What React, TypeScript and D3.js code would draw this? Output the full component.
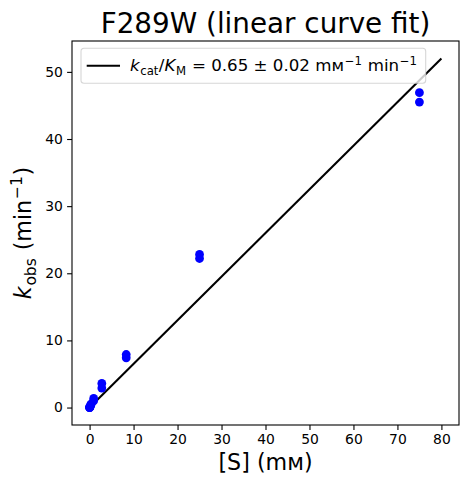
import React, { useEffect, useRef } from 'react';
import * as d3 from 'd3';

// substrate concentrations (mM), duplicate measurements
const concentrations = [75, 75, 25, 25, 8.33, 8.33, 2.78, 2.78, 0.926, 0.926, 0.309, 0.309, 0.103, 0.103, 0.034, 0.034, 0, 0];
const kobsValues = [46.9, 45.5, 22.8, 22.2, 7.9, 7.4, 3.6, 2.9, 1.35, 1.0, 0.5, 0.4, 0.15, 0.12, 0.05, 0.04, 0, 0];
const fitSlope = 0.65;
const fitRange = [0, 80];
const xTicks = [0, 10, 20, 30, 40, 50, 60, 70, 80];
const yTicks = [0, 10, 20, 30, 40, 50];

const FONT = '"DejaVu Sans", sans-serif';

const App: React.FC = () => {
  const svgRef = useRef<SVGSVGElement | null>(null);

  useEffect(() => {
    if (!svgRef.current) return;
    const width = 469;
    const height = 484;
    const margin = { top: 41, right: 10, bottom: 59, left: 72 };
    const innerWidth = width - margin.left - margin.right;
    const innerHeight = height - margin.top - margin.bottom;

    const svg = d3.select(svgRef.current)
      .attr('width', width)
      .attr('height', height)
      .style('background-color', '#fff');

    svg.selectAll('*').remove();

    const g = svg.append('g')
      .attr('transform', `translate(${margin.left},${margin.top})`);

    // matplotlib-style 5% margins around the data
    const xScale = d3.scaleLinear().domain([-4, 84]).range([0, innerWidth]);
    const yScale = d3.scaleLinear().domain([-2.6, 54.6]).range([innerHeight, 0]);

    // x axis
    const xAxis = g.append('g')
      .attr('transform', `translate(0,${innerHeight})`)
      .call(d3.axisBottom(xScale).tickValues(xTicks).tickSize(4.9).tickPadding(4.3).tickSizeOuter(0));
    xAxis.select('.domain').remove();
    xAxis.selectAll('line').attr('stroke', '#000').attr('stroke-width', 1.1);
    xAxis.selectAll('text')
      .attr('fill', '#000')
      .style('font-family', FONT)
      .style('font-size', '13.9px');

    // y axis
    const yAxis = g.append('g')
      .call(d3.axisLeft(yScale).tickValues(yTicks).tickSize(4.9).tickPadding(4.3).tickSizeOuter(0));
    yAxis.select('.domain').remove();
    yAxis.selectAll('line').attr('stroke', '#000').attr('stroke-width', 1.1);
    yAxis.selectAll('text')
      .attr('fill', '#000')
      .style('font-family', FONT)
      .style('font-size', '13.9px');

    // linear fit line
    const line = d3.line<number>()
      .x(d => xScale(d))
      .y(d => yScale(d * fitSlope));
    g.append('path')
      .datum(fitRange)
      .attr('d', line)
      .attr('fill', 'none')
      .attr('stroke', '#000')
      .attr('stroke-width', 2.08);

    // data points
    g.selectAll('.pt')
      .data(concentrations)
      .enter()
      .append('circle')
      .attr('class', 'pt')
      .attr('cx', d => xScale(d))
      .attr('cy', (d, i) => yScale(kobsValues[i]))
      .attr('r', 4.4)
      .attr('fill', '#0000ff');

    // frame
    g.append('rect')
      .attr('x', 0)
      .attr('y', 0)
      .attr('width', innerWidth)
      .attr('height', innerHeight)
      .attr('fill', 'none')
      .attr('stroke', '#000')
      .attr('stroke-width', 1.1);

    // legend
    const legend = g.append('g').attr('transform', `translate(${81 - margin.left},${48.3 - margin.top})`);
    legend.append('rect')
      .attr('width', 344.7)
      .attr('height', 35)
      .attr('rx', 3)
      .attr('fill', 'rgba(255,255,255,0.8)')
      .attr('stroke', 'rgba(204,204,204,0.8)')
      .attr('stroke-width', 1.1);
    legend.append('line')
      .attr('x1', 5.7).attr('x2', 39)
      .attr('y1', 17.5).attr('y2', 17.5)
      .attr('stroke', '#000')
      .attr('stroke-width', 2.08);
    const lt = legend.append('text')
      .attr('x', 49)
      .attr('y', 23)
      .style('font-family', FONT)
      .style('font-size', '16.67px')
      .attr('fill', '#000');
    // text, size, dx, dy, italic
    const parts: [string, string, number, number, boolean][] = [
      ['k', '16.67px', 0, 0, true],
      ['cat', '11.7px', 0.6, 3.5, false],
      ['/', '16.67px', 0.4, -3.5, false],
      ['K', '16.67px', 0, 0, true],
      ['M', '11.7px', 0.6, 3.5, false],
      [' = 0.65 ± 0.02 mм', '16.67px', 0.6, -3.5, false],
      ['−1', '11.7px', 0.6, -6.5, false],
      [' min', '16.67px', 0.6, 6.5, false],
      ['−1', '11.7px', 0.6, -6.5, false],
    ];
    parts.forEach(([t, size, dx, dy, italic]) => {
      lt.append('tspan')
        .attr('dx', dx)
        .attr('dy', dy)
        .style('font-size', size)
        .style('font-style', italic ? 'italic' : 'normal')
        .text(t);
    });

    // title
    svg.append('text')
      .attr('x', margin.left + innerWidth / 2)
      .attr('y', 33)
      .attr('text-anchor', 'middle')
      .style('font-family', FONT)
      .style('font-size', '27.8px')
      .text('F289W (linear curve fit)');

    // x label
    svg.append('text')
      .attr('x', margin.left + innerWidth / 2)
      .attr('y', 470)
      .attr('text-anchor', 'middle')
      .style('font-family', FONT)
      .style('font-size', '22.2px')
      .text('[S] (mм)');

    // y label
    const yl = svg.append('text')
      .attr('transform', `translate(31,${margin.top + innerHeight / 2}) rotate(-90)`)
      .attr('text-anchor', 'middle')
      .style('font-family', FONT)
      .style('font-size', '22.2px');
    const yParts: [string, string, number, number, boolean][] = [
      ['k', '22.2px', 0, 0, true],
      ['obs', '15.5px', 0.8, 4.6, false],
      [' (min', '22.2px', 0.8, -4.6, false],
      ['−1', '15.5px', 0.8, -8.6, false],
      [')', '22.2px', 0.8, 8.6, false],
    ];
    yParts.forEach(([t, size, dx, dy, italic]) => {
      yl.append('tspan')
        .attr('dx', dx)
        .attr('dy', dy)
        .style('font-size', size)
        .style('font-style', italic ? 'italic' : 'normal')
        .text(t);
    });
  }, []);

  return (
    <div style={{ position: 'absolute', left: 0, top: 0 }}>
      <svg ref={svgRef}></svg>
    </div>
  );
};

export default App;
